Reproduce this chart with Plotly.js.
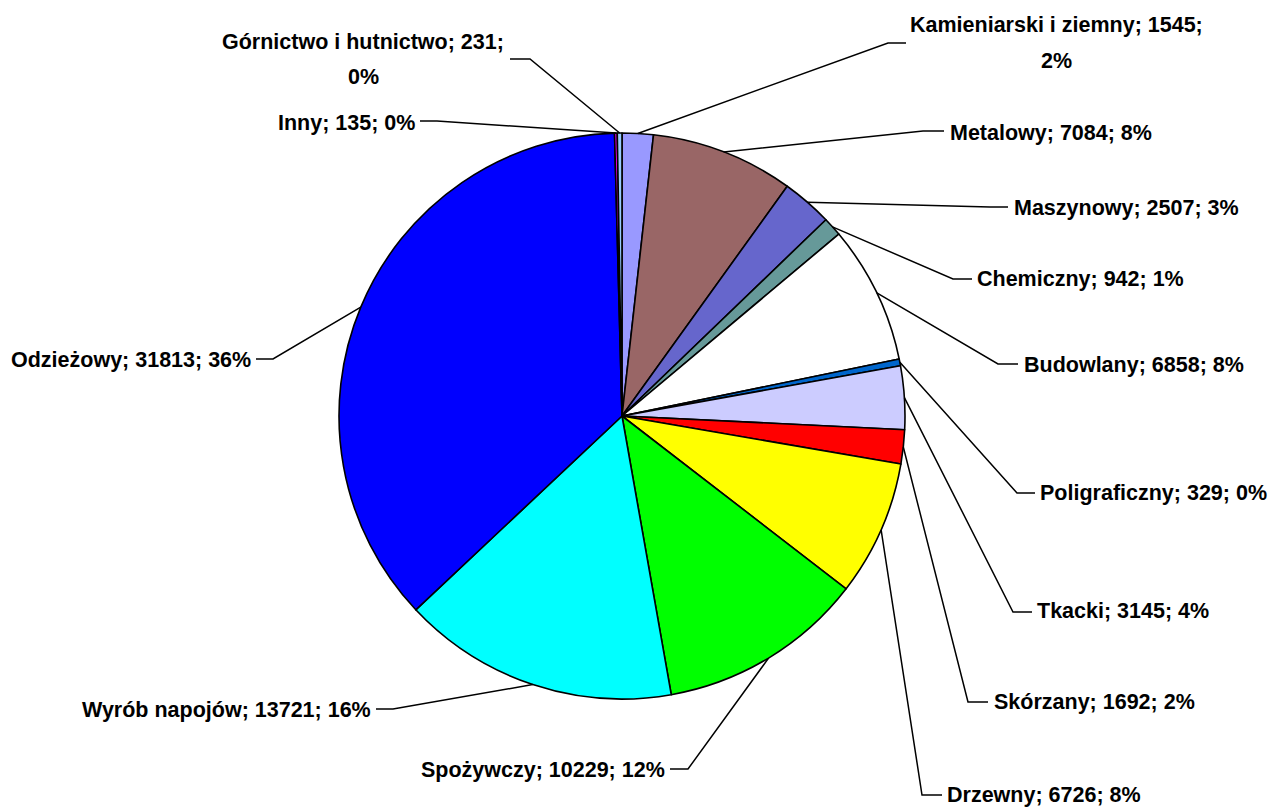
<!DOCTYPE html>
<html><head><meta charset="utf-8">
<script src="https://cdn.plot.ly/plotly-3.0.1.min.js"></script>
<style>html,body{margin:0;padding:0;background:#fff}#chart{width:1274px;height:809px}</style>
</head><body><div id="chart"></div>
<script>
// ---- data ----
const categories = ['Kamieniarski i ziemny','Metalowy','Maszynowy','Chemiczny','Budowlany','Poligraficzny','Tkacki','Skórzany','Drzewny','Spożywczy','Wyrób napojów','Odzieżowy','Inny','Górnictwo i hutnictwo'];
const values = [1545,7084,2507,942,6858,329,3145,1692,6726,10229,13721,31813,135,231];
const colors = ['#9999FF','#996666','#6666CC','#669999','#FFFFFF','#0066CC','#CCCCFF','#FF0000','#FFFF00','#00FF00','#00FFFF','#0000FF','#FF00FF','#99CCFF'];

// ---- layout of labels (pixel positions): text x, text y(s), anchor, elbow, end of leader ----
const labelPos = [
  {tx:1056, ty:[25,61], anchor:'center', elbow:[888,43], end:[906,43]},
  {tx:948,  ty:[133],   anchor:'left',   elbow:[923,131], end:[944,131]},
  {tx:1012, ty:[208],   anchor:'left',   elbow:[990,207], end:[1008,207]},
  {tx:975,  ty:[279],   anchor:'left',   elbow:[953,279], end:[972,279]},
  {tx:1022, ty:[365],   anchor:'left',   elbow:[998,364], end:[1018,364]},
  {tx:1038, ty:[493],   anchor:'left',   elbow:[1017,493], end:[1035,493]},
  {tx:1035, ty:[611],   anchor:'left',   elbow:[1013,612], end:[1032,612]},
  {tx:992,  ty:[702],   anchor:'left',   elbow:[968,702], end:[988,702]},
  {tx:945,  ty:[795],   anchor:'left',   elbow:[922,795], end:[942,795]},
  {tx:667,  ty:[770],   anchor:'right',  elbow:[688,769], end:[670,769]},
  {tx:373,  ty:[710],   anchor:'right',  elbow:[393,709], end:[376,709]},
  {tx:253,  ty:[360],   anchor:'right',  elbow:[273,359], end:[256,359]},
  {tx:417,  ty:[123],   anchor:'right',  elbow:[437,121], end:[420,121]},
  {tx:363,  ty:[42,77], anchor:'center', elbow:[530,59], end:[510,59]}
];

const W = 1274, H = 809;
const CX = 622, CY = 416, R = 283;
const px = x => x / W, py = y => 1 - y / H;

// percentages rounded so they sum to 100 (largest remainder)
const total = values.reduce((a,b)=>a+b,0);
const raw = values.map(v => v / total * 100);
const pct = raw.map(Math.floor);
let rest = 100 - pct.reduce((a,b)=>a+b,0);
raw.map((r,i)=>[r-Math.floor(r), i]).sort((a,b)=>b[0]-a[0]).slice(0,rest).forEach(([_,i])=>pct[i]++);

const font = {family:'Liberation Sans, Arial, sans-serif', size:21.5, color:'#000', weight:'bold'};
const annotations = [], shapes = [];
let cum = 0;
values.forEach((v,i) => {
  const a0 = cum / total * 2 * Math.PI;
  cum += v;
  const a1 = cum / total * 2 * Math.PI;
  const mid = (a0 + a1) / 2;
  const sx = CX + R * Math.sin(mid), sy = CY - R * Math.cos(mid);
  const L = labelPos[i];
  const lines = L.ty.length === 2
    ? [`${categories[i]}; ${values[i]};`, `${pct[i]}%`]
    : [`${categories[i]}; ${values[i]}; ${pct[i]}%`];
  lines.forEach((t,k) => annotations.push({
    text: t, x: px(L.tx), y: py(L.ty[k]), xref:'paper', yref:'paper',
    xanchor: L.anchor, yanchor:'middle', showarrow:false, font: font
  }));
  shapes.push({
    type:'path', xref:'paper', yref:'paper',
    path:`M ${px(sx)},${py(sy)} L ${px(L.elbow[0])},${py(L.elbow[1])} L ${px(L.end[0])},${py(L.end[1])}`,
    line:{color:'#000', width:1.5}
  });
});

const trace = {
  type:'pie', labels:categories, values:values, sort:false, direction:'clockwise', rotation:0,
  marker:{colors:colors, line:{color:'#000', width:1.6}},
  textinfo:'none', hoverinfo:'label+value+percent', showlegend:false,
  domain:{x:[px(CX-R), px(CX+R)], y:[py(CY+R), py(CY-R)]}
};

Plotly.newPlot('chart', [trace], {
  width:W, height:H, margin:{l:0,r:0,t:0,b:0},
  paper_bgcolor:'#fff', plot_bgcolor:'#fff', showlegend:false,
  annotations:annotations, shapes:shapes
}, {staticPlot:true});
</script></body></html>
